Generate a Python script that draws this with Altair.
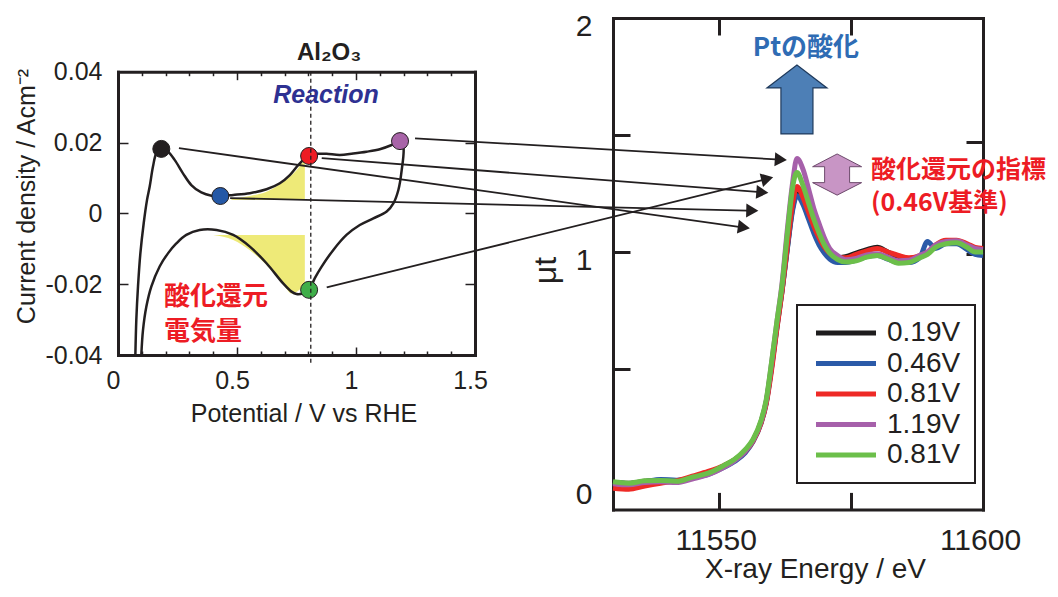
import math
import altair as alt
import pandas as pd

# ------------------------------------------------------------------ data
# Cyclic voltammogram of Pt / Al2O3 (one closed sweep: anodic, then cathodic)
cv_potential = [0.073, 0.077, 0.084, 0.094, 0.108, 0.122, 0.133, 0.147, 0.161, 0.182,
                0.210, 0.238, 0.273, 0.308, 0.350, 0.393, 0.430, 0.484, 0.554, 0.624,
                0.680, 0.722, 0.757, 0.785, 0.803, 0.834, 0.876, 0.932, 0.988, 1.044,
                1.100, 1.150, 1.185, 1.199, 1.192, 1.178, 1.157, 1.129, 1.073, 1.016,
                0.960, 0.904, 0.855, 0.827, 0.803, 0.778, 0.750, 0.729, 0.694, 0.624,
                0.554, 0.484, 0.414, 0.343, 0.287, 0.245, 0.210, 0.175, 0.140, 0.119,
                0.105, 0.098]
cv_current = [-0.0400, -0.0300, -0.0207, -0.0113, -0.0028, 0.0038, 0.0075, 0.0132, 0.0169, 0.0182,
              0.0174, 0.0151, 0.0113, 0.0080, 0.0059, 0.0050, 0.0049, 0.0052, 0.0057, 0.0068,
              0.0085, 0.0108, 0.0136, 0.0155, 0.0162, 0.0168, 0.0168, 0.0165, 0.0169, 0.0174,
              0.0181, 0.0193, 0.0204, 0.0188, 0.0122, 0.0066, 0.0028, 0.0005, -0.0014, -0.0033,
              -0.0061, -0.0104, -0.0151, -0.0183, -0.0216, -0.0226, -0.0228, -0.0221, -0.0198, -0.0141,
              -0.0094, -0.0061, -0.0047, -0.0047, -0.0061, -0.0085, -0.0113, -0.0150, -0.0207, -0.0264,
              -0.0330, -0.0400]

# shaded oxidation / reduction charge
ox_shade_potential = [0.477, 0.554, 0.624, 0.694, 0.750, 0.778, 0.785]
ox_shade_current = [0.0042, 0.0049, 0.0061, 0.0089, 0.0122, 0.0146, 0.0150]
ox_shade_base = 0.0038
red_shade_potential = [0.400, 0.484, 0.554, 0.624, 0.694, 0.729, 0.785]
red_shade_current = [-0.0061, -0.0075, -0.0104, -0.0146, -0.0200, -0.0226, -0.0202]
red_shade_base = -0.0061

reaction_potential = 0.81
reaction_line_top = 0.04
reaction_line_bottom = -0.0423

# five measurement points (legend keys, legend labels, colours)
series_keys = ["1 0.19V", "2 0.46V", "3 0.81V", "4 1.19V", "5 0.81V"]
series_colors = ["#1e1c1d", "#2b5aa8", "#ee2a26", "#a660aa", "#6cbf4a"]
marker_colors = ["#231f20", "#2458a6", "#ed1c24", "#a864a8", "#3fae49"]
point_potential = [0.182, 0.430, 0.803, 1.185, 0.803]
point_current = [0.0182, 0.0049, 0.0162, 0.0204, -0.0216]

# arrows from the CV points to the XANES white line
arrow_start_potential = [0.256, 0.471, 0.856, 1.248, 0.877]
arrow_start_current = [0.0184, 0.0043, 0.0156, 0.0212, -0.0209]
arrow_end_energy = [11555.9, 11557.5, 11559.4, 11562.9, 11560.3]
arrow_end_mut = [1.101, 1.176, 1.253, 1.393, 1.319]

# Pt L3-edge XANES
energy = [11530, 11533, 11536, 11539, 11542, 11545, 11548, 11551, 11553, 11555,
          11556.5, 11558, 11559, 11560, 11561, 11562, 11563, 11564, 11564.8, 11566,
          11567, 11568, 11569, 11570, 11571, 11572.5, 11574, 11576, 11578, 11580,
          11582, 11584, 11586, 11588, 11589.5, 11591, 11593, 11595, 11597, 11598.5, 11600]
mut_019 = [0.015, 0.012, 0.020, 0.025, 0.022, 0.038, 0.056, 0.086, 0.112, 0.150,
           0.195, 0.272, 0.360, 0.510, 0.680, 0.840, 1.020, 1.190, 1.250, 1.210,
           1.150, 1.100, 1.050, 1.015, 0.990, 0.975, 0.980, 0.995, 1.010, 1.020,
           1.000, 0.980, 0.970, 0.980, 0.995, 1.025, 1.045, 1.045, 1.030, 1.010, 1.005]
mut_046 = [0.015, 0.010, 0.018, 0.028, 0.025, 0.035, 0.050, 0.080, 0.105, 0.142,
           0.190, 0.268, 0.355, 0.505, 0.675, 0.835, 1.015, 1.180, 1.240, 1.200,
           1.140, 1.080, 1.030, 0.995, 0.970, 0.955, 0.955, 0.965, 0.980, 0.985,
           0.970, 0.955, 0.955, 0.975, 1.045, 1.015, 1.035, 1.035, 1.010, 0.990, 0.985]
mut_081_ox = [-0.010, -0.014, 0.000, 0.012, 0.022, 0.042, 0.062, 0.088, 0.112, 0.148,
              0.192, 0.268, 0.352, 0.495, 0.670, 0.835, 1.030, 1.210, 1.280, 1.230,
              1.170, 1.110, 1.060, 1.020, 0.995, 0.975, 0.975, 0.990, 1.005, 1.015,
              1.000, 0.985, 0.975, 0.985, 1.000, 1.030, 1.050, 1.050, 1.035, 1.020, 1.015]
mut_119 = [0.010, 0.005, 0.015, 0.018, 0.015, 0.030, 0.048, 0.080, 0.108, 0.148,
           0.195, 0.275, 0.365, 0.525, 0.700, 0.870, 1.100, 1.300, 1.400, 1.350,
           1.270, 1.185, 1.120, 1.060, 1.015, 0.985, 0.967, 0.973, 0.987, 0.993,
           0.978, 0.963, 0.965, 0.985, 1.000, 1.030, 1.045, 1.048, 1.030, 1.015, 1.010]
mut_081_red = [0.018, 0.012, 0.022, 0.024, 0.020, 0.038, 0.055, 0.088, 0.114, 0.155,
               0.200, 0.280, 0.370, 0.530, 0.700, 0.860, 1.080, 1.280, 1.340, 1.280,
               1.210, 1.140, 1.080, 1.030, 0.995, 0.968, 0.957, 0.962, 0.978, 0.985,
               0.970, 0.952, 0.955, 0.975, 0.990, 1.020, 1.035, 1.040, 1.020, 1.000, 1.000]
xanes_values = [mut_019, mut_046, mut_081_ox, mut_119, mut_081_red]

# annotation texts
title_text = ["Al₂O₃"]
title_at = ([0.887], [0.0433])
reaction_text = ["Reaction"]
reaction_at = ([0.874], [0.0334])
charge_text = ["酸化還元", "電気量"]
charge_at = ([0.193, 0.193], [-0.0235, -0.0334])
oxid_text = ["Ptの酸化"]
oxid_at = ([11566.5], [1.872])
index_text = ["酸化還元の指標", "(0.46V基準)"]
index_at = ([11578.8, 11578.8], [1.352, 1.208])
up_arrow_at = ([11564.8], [1.652])
double_arrow_at = ([11572.4], [1.331])

# ------------------------------------------------------------------ layout
W, H = 1042, 578
INK = "#231f20"
FONT = "Liberation Sans"
CJK = "Noto Sans CJK JP"

LXD, LXR = [0, 1.5], [110, 467]
LYD, LYR = [-0.04, 0.04], [347, 63.7]
RXD, RXR = [11530, 11600], [605, 975]
RYD, RYR = [-0.1, 2.0], [501.4, 10]


def sc(d, r):
    return alt.Scale(domain=d, range=r, nice=False, zero=False)


LX, LY, RX, RY = sc(LXD, LXR), sc(LYD, LYR), sc(RXD, RXR), sc(RYD, RYR)


def lin(v, d, r):
    return r[0] + (v - d[0]) / (d[1] - d[0]) * (r[1] - r[0])


def inv(p, d, r):
    return d[0] + (p - r[0]) / (r[1] - r[0]) * (d[1] - d[0])


def lx(f):
    return alt.X(f, type="quantitative", scale=LX, axis=None)


def ly(f):
    return alt.Y(f, type="quantitative", scale=LY, axis=None)


def rx(f):
    return alt.X(f, type="quantitative", scale=RX, axis=None)


def ry(f):
    return alt.Y(f, type="quantitative", scale=RY, axis=None)


layers = []

# ---- left panel
ox_df = pd.DataFrame({"v": ox_shade_potential, "j": ox_shade_current, "b": ox_shade_base})
red_df = pd.DataFrame({"v": red_shade_potential, "j": red_shade_current, "b": red_shade_base})
for df in (ox_df, red_df):
    layers.append(alt.Chart(df).mark_area(color="#eeea78", opacity=1, interpolate="monotone")
                  .encode(x=lx("v"), y=ly("j"), y2="b:Q"))

cv_df = pd.DataFrame({"v": cv_potential, "j": cv_current, "i": list(range(len(cv_potential)))})
layers.append(alt.Chart(cv_df).mark_line(color=INK, strokeWidth=2.5, interpolate="catmull-rom")
              .encode(x=lx("v"), y=ly("j"), order="i:Q"))

pt_df = pd.DataFrame({"v": point_potential, "j": point_current, "s": series_keys})
layers.append(alt.Chart(pt_df).mark_point(shape="circle", filled=True, size=289, stroke=INK,
                                          strokeWidth=1, opacity=1)
              .encode(x=lx("v"), y=ly("j"),
                      fill=alt.Fill("s:N", scale=alt.Scale(domain=series_keys, range=marker_colors),
                                    legend=None)))

dash_df = pd.DataFrame({"v": [reaction_potential], "t": [reaction_line_top], "b": [reaction_line_bottom]})
layers.append(alt.Chart(dash_df).mark_rule(color=INK, strokeWidth=1.3, strokeDash=[4, 3])
              .encode(x=lx("v"), y=ly("t"), y2="b:Q"))

# arrows (start in CV coordinates, tip in XANES coordinates)
HEAD_R = 7.0
head_h = HEAD_R * math.sqrt(3) / 2
rows = []
for sv, sj, ee, em in zip(arrow_start_potential, arrow_start_current, arrow_end_energy, arrow_end_mut):
    x0, y0 = lin(sv, LXD, LXR), lin(sj, LYD, LYR)
    x1, y1 = lin(ee, RXD, RXR), lin(em, RYD, RYR)
    L = math.hypot(x1 - x0, y1 - y0)
    dx, dy = (x1 - x0) / L, (y1 - y0) / L
    ex, ey = x1 - dx * (2 * head_h - 1), y1 - dy * (2 * head_h - 1)
    cx, cy = x1 - dx * head_h, y1 - dy * head_h
    rows.append({"v0": sv, "j0": sj,
                 "v1": inv(ex, LXD, LXR), "j1": inv(ey, LYD, LYR),
                 "hv": inv(cx, LXD, LXR), "hj": inv(cy, LYD, LYR),
                 "ang": math.degrees(math.atan2(dy, dx)) % 360})
arr_df = pd.DataFrame(rows)
layers.append(alt.Chart(arr_df).mark_rule(color=INK, strokeWidth=1.8)
              .encode(x=lx("v0"), y=ly("j0"), x2="v1:Q", y2="j1:Q"))
layers.append(alt.Chart(arr_df).mark_point(shape="triangle-right", filled=True, size=(2 * HEAD_R) ** 2,
                                           color=INK, opacity=1)
              .encode(x=lx("hv"), y=ly("hj"), angle=alt.Angle("ang:Q", scale=None)))


def text_layer(texts, at, xs, ys, **kw):
    df = pd.DataFrame({"x": at[0], "y": at[1], "t": texts})
    return alt.Chart(df).mark_text(**kw).encode(x=xs("x"), y=ys("y"), text="t:N")


layers.append(text_layer(title_text, title_at, lx, ly, font=FONT, fontSize=24, fontWeight="bold",
                         color=INK, align="center", baseline="alphabetic"))
layers.append(text_layer(reaction_text, reaction_at, lx, ly, font=FONT, fontSize=25, fontWeight="bold",
                         fontStyle="italic", color="#2e3192", align="center", baseline="middle"))
layers.append(text_layer(charge_text, charge_at, lx, ly, font=CJK, fontSize=26, fontWeight="bold",
                         color="#ed1c24", align="left", baseline="middle"))

# ---- right panel
xrows = []
for key, vals in zip(series_keys, xanes_values):
    for e, m in zip(energy, vals):
        xrows.append({"E": e, "m": m, "s": key})
x_df = pd.DataFrame(xrows)
layers.append(alt.Chart(x_df).mark_line(strokeWidth=5, interpolate="monotone")
              .encode(x=rx("E"), y=ry("m"),
                      color=alt.Color("s:N", scale=alt.Scale(domain=series_keys, range=series_colors),
                                      legend=alt.Legend(title=None, orient="none", legendX=789, legendY=297,
                                                        direction="vertical",
                                                        symbolType="M-3,0L3,0", symbolSize=400,
                                                        symbolStrokeWidth=5, symbolOffset=21,
                                                        labelOffset=27, labelFont=FONT, labelFontSize=28,
                                                        labelColor=INK, rowPadding=2.5, padding=14,
                                                        strokeColor=INK,
                                                        labelExpr="split(datum.label, ' ')[1]"))))

up_df = pd.DataFrame({"x": up_arrow_at[0], "y": up_arrow_at[1]})
layers.append(alt.Chart(up_df).mark_point(
    shape="M0,-1L0.87,-0.333L0.464,-0.333L0.464,1L-0.464,1L-0.464,-0.333L-0.87,-0.333Z",
    size=69 ** 2, filled=True, fill="#4d7fb6", stroke="#1f3a5c", strokeWidth=1.2, opacity=1)
    .encode(x=rx("x"), y=ry("y")))
dbl_df = pd.DataFrame({"x": double_arrow_at[0], "y": double_arrow_at[1]})
layers.append(alt.Chart(dbl_df).mark_point(
    shape="M0,-0.84L1,-0.32L0.51,-0.32L0.51,0.33L1,0.33L0,0.84L-1,0.33L-0.51,0.33L-0.51,-0.32L-1,-0.32Z",
    size=49 ** 2, filled=True, fill="#c895c5", stroke="#6d4a6c", strokeWidth=1, opacity=1)
    .encode(x=rx("x"), y=ry("y")))

layers.append(text_layer(oxid_text, oxid_at, rx, ry, font=CJK, fontSize=26, fontWeight="bold",
                         color="#2f6cb4", align="center", baseline="middle"))
layers.append(text_layer(index_text, index_at, rx, ry, font=CJK, fontSize=25, fontWeight="bold",
                         color="#ed1c24", align="left", baseline="middle"))

# ---- axes (each drawn by its own invisible layer so it can sit on its frame side)
BASE = dict(grid=False, domainColor=INK, tickColor=INK, labelColor=INK, labelFont=FONT,
            titleFont=FONT, titleColor=INK, titleFontWeight="normal", labelFlush=False,
            labelOverlap=False, domainCap="square")
NOLAB = dict(labels=False, title=None)


def axis_layer(channel, scale, dom, **ax):
    df = pd.DataFrame({"v": dom})
    a = alt.Axis(**{**BASE, **ax})
    enc = alt.X("v:Q", scale=scale, axis=a) if channel == "x" else alt.Y("v:Q", scale=scale, axis=a)
    return alt.Chart(df).mark_point(opacity=0).encode(**{channel: enc})


lx_minor = [round(0.1 * k, 1) for k in range(1, 15)]
major_test = {"condition": {"test": "abs(datum.value*2 - round(datum.value*2)) < 0.01", "value": 8},
              "value": 4}
ylab_expr = "datum.value == 0 ? '0' : (datum.value < 0 ? '-' : '') + format(abs(datum.value), '.2f')"

# left panel
layers.append(axis_layer("x", LX, LXD, orient="bottom", offset=LYR[0] - H, values=[0, 0.5, 1, 1.5],
                         format="~g", ticks=False, tickSize=0, domainWidth=3, labelFontSize=25,
                         labelPadding=13, labelOffset=-5, title="Potential / V vs RHE", titleFontSize=25,
                         titleX=295.5, titleY=46, titleBaseline="top", titleAlign="center"))
layers.append(axis_layer("x", LX, LXD, orient="top", offset=-LYR[0], values=lx_minor, domain=False,
                         tickSize=major_test, tickWidth=1.5, **NOLAB))
layers.append(axis_layer("x", LX, LXD, orient="bottom", offset=LYR[1] - H, values=lx_minor,
                         domainWidth=3, tickSize=major_test, tickWidth=1.5, **NOLAB))
layers.append(axis_layer("y", LY, LYD, orient="left", offset=-LXR[0], values=[-0.04, -0.02, 0, 0.02, 0.04],
                         labelExpr=ylab_expr, ticks=False, tickSize=0, domainWidth=3, labelFontSize=25,
                         labelPadding=16, title="Current density / Acm⁻²", titleFontSize=25,
                         titleX=-92, titleY=188, titleAngle=270, titleBaseline="middle", titleAlign="center"))
layers.append(axis_layer("y", LY, LYD, orient="right", offset=LXR[0] - W, values=[-0.02, 0, 0.02],
                         domain=False, tickSize=10, tickWidth=1.5, **NOLAB))
layers.append(axis_layer("y", LY, LYD, orient="left", offset=-LXR[1], values=[-0.02, 0, 0.02],
                         domainWidth=3, tickSize=10, tickWidth=1.5, **NOLAB))

# right panel
layers.append(axis_layer("x", RX, RXD, orient="bottom", offset=RYR[0] - H, values=[11550, 11600],
                         format="d", ticks=False, tickSize=0, domainWidth=3, labelFontSize=30,
                         labelPadding=16, labelOffset=-3, title="X-ray Energy / eV", titleFontSize=28,
                         titleX=807, titleY=46, titleBaseline="top", titleAlign="center"))
layers.append(axis_layer("x", RX, RXD, orient="top", offset=-RYR[0], values=[11550, 11575],
                         domain=False, tickSize=17, tickWidth=3, **NOLAB))
layers.append(axis_layer("x", RX, RXD, orient="bottom", offset=RYR[1] - H, values=[11550, 11575],
                         domainWidth=3, tickSize=17, tickWidth=3, **NOLAB))
layers.append(axis_layer("y", RY, RYD, orient="left", offset=-RXR[0], values=[0, 2], format="d",
                         ticks=False, tickSize=0, domainWidth=3, labelFontSize=30, labelPadding=21,
                         labelOffset=8, title="μt", titleFontSize=32, titleX=-68, titleY=262,
                         titleAngle=270, titleBaseline="middle", titleAlign="center"))
layers.append(axis_layer("y", RY, RYD, orient="left", offset=-RXR[0], values=[1], format="d",
                         ticks=False, tickSize=0, domain=False, labelFontSize=30, labelPadding=21,
                         labelOffset=8, title=None))
layers.append(axis_layer("y", RY, RYD, orient="right", offset=RXR[0] - W, values=[0.5, 1, 1.5],
                         domain=False, tickSize=17, tickWidth=3, **NOLAB))
layers.append(axis_layer("y", RY, RYD, orient="left", offset=-RXR[1], values=[0.99, 1.47],
                         domainWidth=3, tickSize=17, tickWidth=3, **NOLAB))

chart = (alt.layer(*layers)
         .resolve_scale(x="independent", y="independent", color="independent", fill="independent")
         .properties(width=W, height=H, autosize=alt.AutoSizeParams(type="none"), padding=0,
                     background="white")
         .configure_view(stroke=None)
         .configure_legend(strokeWidth=2))

chart.save("out.html", embed_options={"renderer": "svg", "actions": False})
